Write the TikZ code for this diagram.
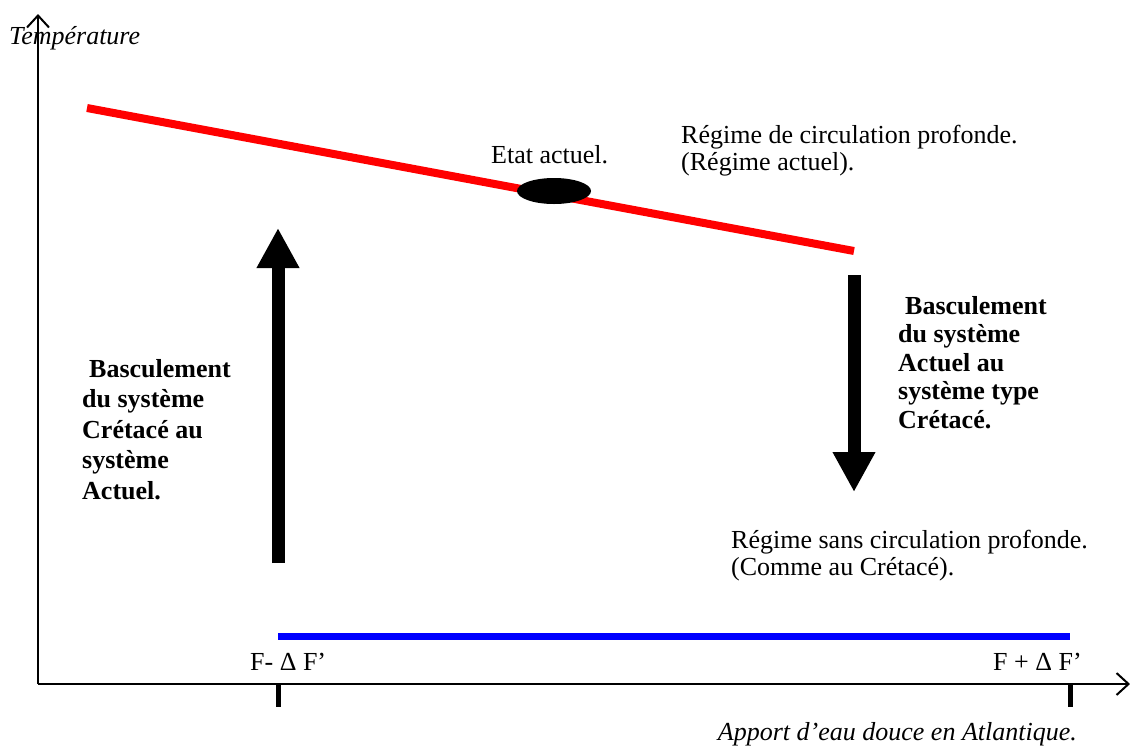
\documentclass[tikz,border=0pt]{standalone}
\usepackage{fontspec}
\setmainfont{Liberation Serif}
\usetikzlibrary{arrows.meta,shapes.geometric}
\begin{document}
\begin{tikzpicture}[x=1pt,y=-1pt,
  txt/.style={anchor=base west,inner sep=0pt,font=\fontsize{26}{29}\selectfont},
  itxt/.style={txt,font=\fontsize{26}{29}\selectfont\itshape},
  btxt/.style={anchor=north west,inner sep=0pt,align=left,font=\fontsize{26}{29}\selectfont\bfseries},
  axis/.style={line width=2pt,-{Straight Barb[length=12pt,width=22pt,line width=2pt]}},
  tick/.style={line width=5pt},
  bigarrow/.style={line width=13pt,-{Triangle[width=40pt,length=40pt]}}]
\useasboundingbox (0,0) rectangle (1130,745);
% axes
\coordinate (O) at (38,684);
\coordinate (Ytop) at (38,14);
\coordinate (Xend) at (1130,684);
\draw[axis] (O) -- (Ytop);
\draw[axis] (O) -- (Xend);
% ticks
\coordinate (t1a) at (278,684); \coordinate (t1b) at (278,707);
\coordinate (t2a) at (1070,684); \coordinate (t2b) at (1070,707);
\draw[tick] (t1a) -- (t1b);
\draw[tick] (t2a) -- (t2b);
% red line
\coordinate (r1) at (87,108);
\coordinate (r2) at (854,251);
\draw[red,line width=8pt] (r1) -- (r2);
% ellipse
\node[ellipse,fill=black,minimum width=74pt,minimum height=26pt,inner sep=0pt] (etat) at (554,191) {};
% blue line
\coordinate (b1) at (278,636);
\coordinate (b2) at (1070,636);
\draw[blue,line width=7pt] (b1) -- (b2);
% big arrows
\coordinate (u1) at (278,563);
\coordinate (u2) at (278,228);
\draw[bigarrow] (u1) -- (u2);
\coordinate (d1) at (854,275);
\coordinate (d2) at (854,492);
\draw[bigarrow] (d1) -- (d2);
% texts
\node[itxt] (temp) at (9,44) {Température};
\node[txt] (etatlbl) at (491,163) {Etat actuel.};
\node[txt] (reg1a) at (681,143) {Régime de circulation profonde.};
\node[txt] (reg1b) at (681,170) {(Régime actuel).};
\node[txt] (reg2a) at (731,548) {Régime sans circulation profonde.};
\node[txt] (reg2b) at (731,575) {(Comme au Crétacé).};
\node[btxt,font=\fontsize{26}{30.5}\selectfont\bfseries] (left) at (82,359) {\hspace*{7pt}Basculement\\du système\\Crétacé au\\système\\Actuel.};
\node[btxt,font=\fontsize{26}{28.5}\selectfont\bfseries] (right) at (898,296) {\hspace*{7pt}Basculement\\du système\\Actuel au\\système type\\Crétacé.};
\node[txt] (fm) at (250,670) {F- Δ F’};
\node[txt] (fp) at (993,670) {F + Δ F’};
\node[itxt,anchor=base east] (apport) at (1077,740) {Apport d’eau douce en Atlantique.};
\end{tikzpicture}
\end{document}
